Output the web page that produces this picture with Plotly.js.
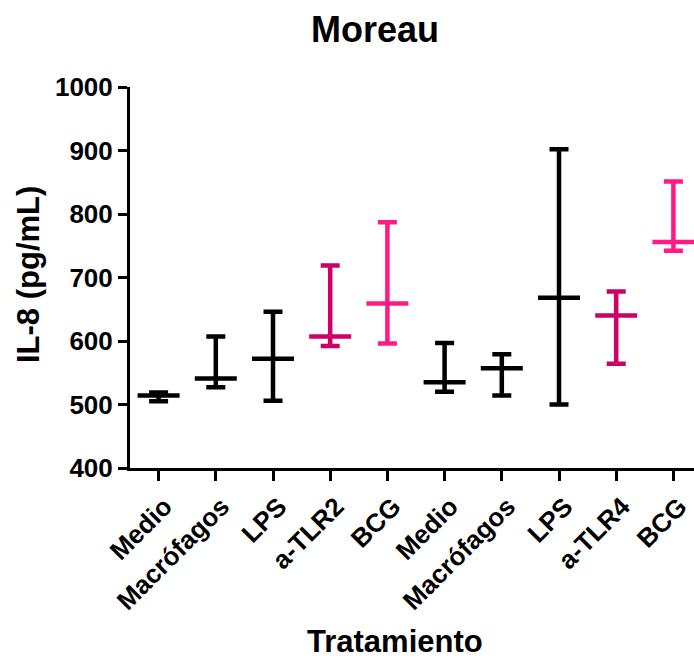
<!DOCTYPE html>
<html>
<head>
<meta charset="utf-8">
<script src="https://cdn.plot.ly/plotly-3.0.1.min.js"></script>
<style>html,body{margin:0;padding:0;background:#fff;}#chart{width:694px;height:660px;}</style>
</head>
<body>
<div id="chart"></div>
<script>
const categories = ["Medio", "Macrófagos", "LPS", "a-TLR2", "BCG", "Medio", "Macrófagos", "LPS", "a-TLR4", "BCG"];
const meanValues = [514, 541, 572, 607, 659, 535, 557, 668, 640, 756];
const upperValues = [519, 607, 646, 719, 787, 597, 579, 902, 678, 851];
const lowerValues = [505, 527, 506, 592, 596, 520, 514, 500, 564, 742];
const pointColors = ["#000000", "#000000", "#000000", "#cc0066", "#ff1a85", "#000000", "#000000", "#000000", "#cc0066", "#ff1a85"];
const yTickValues = [400, 500, 600, 700, 800, 900, 1000];

const font = "Liberation Sans, Arial, sans-serif";
const positions = categories.map((c, i) => i);

const traces = categories.map((c, i) => ({
  type: "scatter",
  mode: "markers",
  x: [positions[i]],
  y: [meanValues[i]],
  marker: {
    symbol: "line-ew",
    size: 30,
    color: pointColors[i],
    line: { width: 4.5, color: pointColors[i] }
  },
  error_y: {
    type: "data",
    symmetric: false,
    array: [upperValues[i] - meanValues[i]],
    arrayminus: [meanValues[i] - lowerValues[i]],
    color: pointColors[i],
    thickness: 4.5,
    width: 9.5
  },
  showlegend: false,
  hoverinfo: "y"
}));

const layout = {
  width: 694,
  height: 660,
  margin: { l: 130, r: 0, t: 87, b: 192 },
  paper_bgcolor: "#fff",
  plot_bgcolor: "#fff",
  title: {
    text: "<b>Moreau</b>",
    font: { family: font, size: 36, color: "#000" },
    x: 375 / 694,
    xanchor: "center",
    xref: "container",
    y: 1 - 29 / 660,
    yanchor: "middle",
    yref: "container"
  },
  xaxis: {
    range: [-0.5, 9.36],
    tickvals: positions,
    ticktext: categories.map(c => "<b>" + c + "</b>"),
    tickangle: -45,
    ticklabelshift: 6,
    ticks: "outside",
    ticklen: 10,
    tickwidth: 3,
    tickcolor: "#000",
    showline: true,
    linewidth: 3,
    linecolor: "#000",
    showgrid: false,
    zeroline: false,
    automargin: false,
    tickfont: { family: font, size: 26, color: "#000" }
  },
  yaxis: {
    range: [400, 1000],
    tickvals: yTickValues,
    ticktext: yTickValues.map(v => "<b>" + v + "</b>"),
    ticks: "outside",
    ticklen: 9,
    tickwidth: 3,
    tickcolor: "#000",
    showline: true,
    linewidth: 3,
    linecolor: "#000",
    showgrid: false,
    zeroline: false,
    automargin: false,
    tickfont: { family: font, size: 26, color: "#000" }
  },
  annotations: [
    {
      text: "<b>Tratamiento</b>",
      font: { family: font, size: 31, color: "#000" },
      xref: "paper", yref: "paper",
      x: (395 - 130) / 564, y: -(641 - 468) / 381,
      xanchor: "center", yanchor: "middle",
      showarrow: false
    },
    {
      text: "<b>IL-8 (pg/mL)</b>",
      font: { family: font, size: 31, color: "#000" },
      textangle: -90,
      xref: "paper", yref: "paper",
      x: -(130 - 28) / 564, y: (468 - 275) / 381,
      xanchor: "center", yanchor: "middle",
      showarrow: false
    }
  ]
};

Plotly.newPlot("chart", traces, layout, { displayModeBar: false, staticPlot: true });
</script>
</body>
</html>
